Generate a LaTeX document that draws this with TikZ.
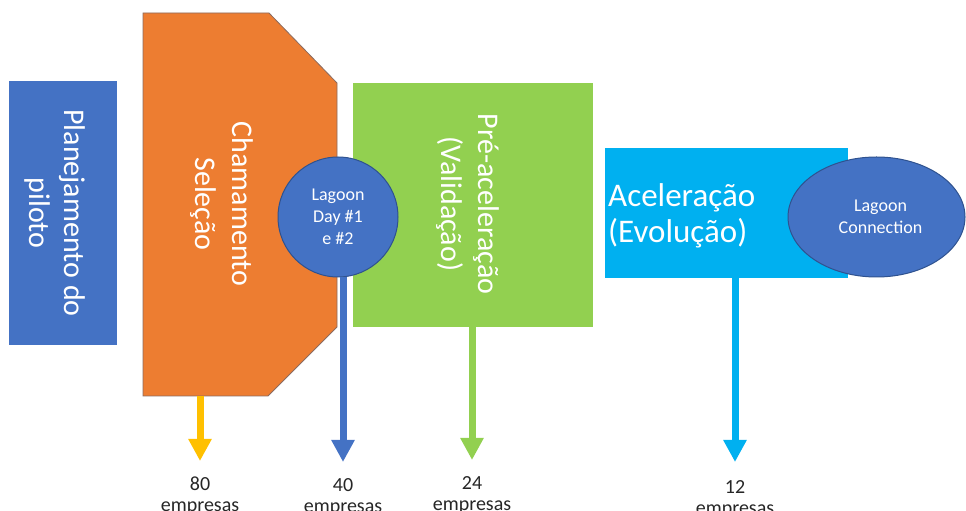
\documentclass[tikz,border=0pt]{standalone}
\usepackage{fontspec}
\setmainfont{Carlito}
\usetikzlibrary{positioning,arrows.meta,shapes.geometric}
\definecolor{planblue}{HTML}{4472C4}
\definecolor{darkblue}{HTML}{2F528F}
\definecolor{selorange}{HTML}{ED7D31}
\definecolor{selline}{HTML}{8A6B60}
\definecolor{valgreen}{HTML}{92D050}
\definecolor{acelcyan}{HTML}{00B0F0}
\definecolor{amber}{HTML}{FFC000}
\definecolor{labelink}{HTML}{262626}
\tikzset{
  phase/.style={inner sep=0pt,draw=none},
  vtext/.style={rotate=-90,align=center,text=white,inner sep=0pt,font=\fontsize{30}{37}\selectfont},
  bubble/.style={fill=planblue,draw=darkblue,line width=1pt,inner sep=0pt,text=white,align=center,font=\fontsize{18}{22}\selectfont},
  drop/.style={line width=7pt,-{Triangle[length=22pt,width=22pt]}},
  count/.style={inner sep=0pt,align=center,text=labelink,font=\fontsize{20}{21}\selectfont}}

\begin{document}
\begin{tikzpicture}[x=1pt,y=1pt]
  \useasboundingbox (0,0) rectangle (966,511);
  % phases
  \node[phase,fill=planblue,minimum width=108pt,minimum height=264pt] (plan) at (63,298) {};
  \node[vtext,font=\fontsize{30}{35}\selectfont] (plantxt) at (55,298) {Planejamento do\\piloto};
  \draw[fill=selorange,draw=selline,line width=0.8pt]
    (143,498) -- (269,498) -- (337,428) -- (337,184) -- (268,115) -- (143,115) -- cycle;
  \coordinate (selbase) at (200,115);
  \node[vtext] (seltxt) at (222,307) {Chamamento\\Seleção};
  \node[phase,fill=valgreen,minimum width=240pt,minimum height=244pt] (val) at (473,306) {};
  \node[vtext] (valtxt) at (468,307) {Pré-aceleração\\(Validação)};
  \node[phase,fill=acelcyan,minimum width=243pt,minimum height=130pt] (acel) at (726.5,298) {};
  \node[anchor=west,align=left,text=white,inner sep=0pt,font=\fontsize{33}{36}\selectfont] (aceltxt) at (608,295) {Aceleração\\(Evolução)};
  % lagoon events
  \node[bubble,circle,minimum size=120pt] (lday) at (338,294) {Lagoon\\Day \#1\\e \#2};
  \node[bubble,ellipse,minimum width=177pt,minimum height=120pt] (lconn) at (876.5,294) {\hspace*{8pt}Lagoon\\\hspace*{8pt}Connection};
  % arrow tips
  \coordinate (t80) at (200,50);
  \coordinate (t40) at (343,49);
  \coordinate (t24) at (472,51);
  \coordinate (t12) at (735,49);
  \draw[drop,amber] (selbase) -- (t80);
  \draw[drop,planblue] (lday.south -| t40) -- (t40);
  \draw[drop,valgreen] (val.south -| t24) -- (t24);
  \draw[drop,acelcyan] (acel.south -| t12) -- (t12);
  % counts
  \node[count,below=16pt of t80] (n80) {80\\empresas};
  \node[count,below=16pt of t40] (n40) {40\\empresas};
  \node[count,below=16pt of t24] (n24) {24\\empresas};
  \node[count,below=18pt of t12] (n12) {12\\empresas};
\end{tikzpicture}
\end{document}
